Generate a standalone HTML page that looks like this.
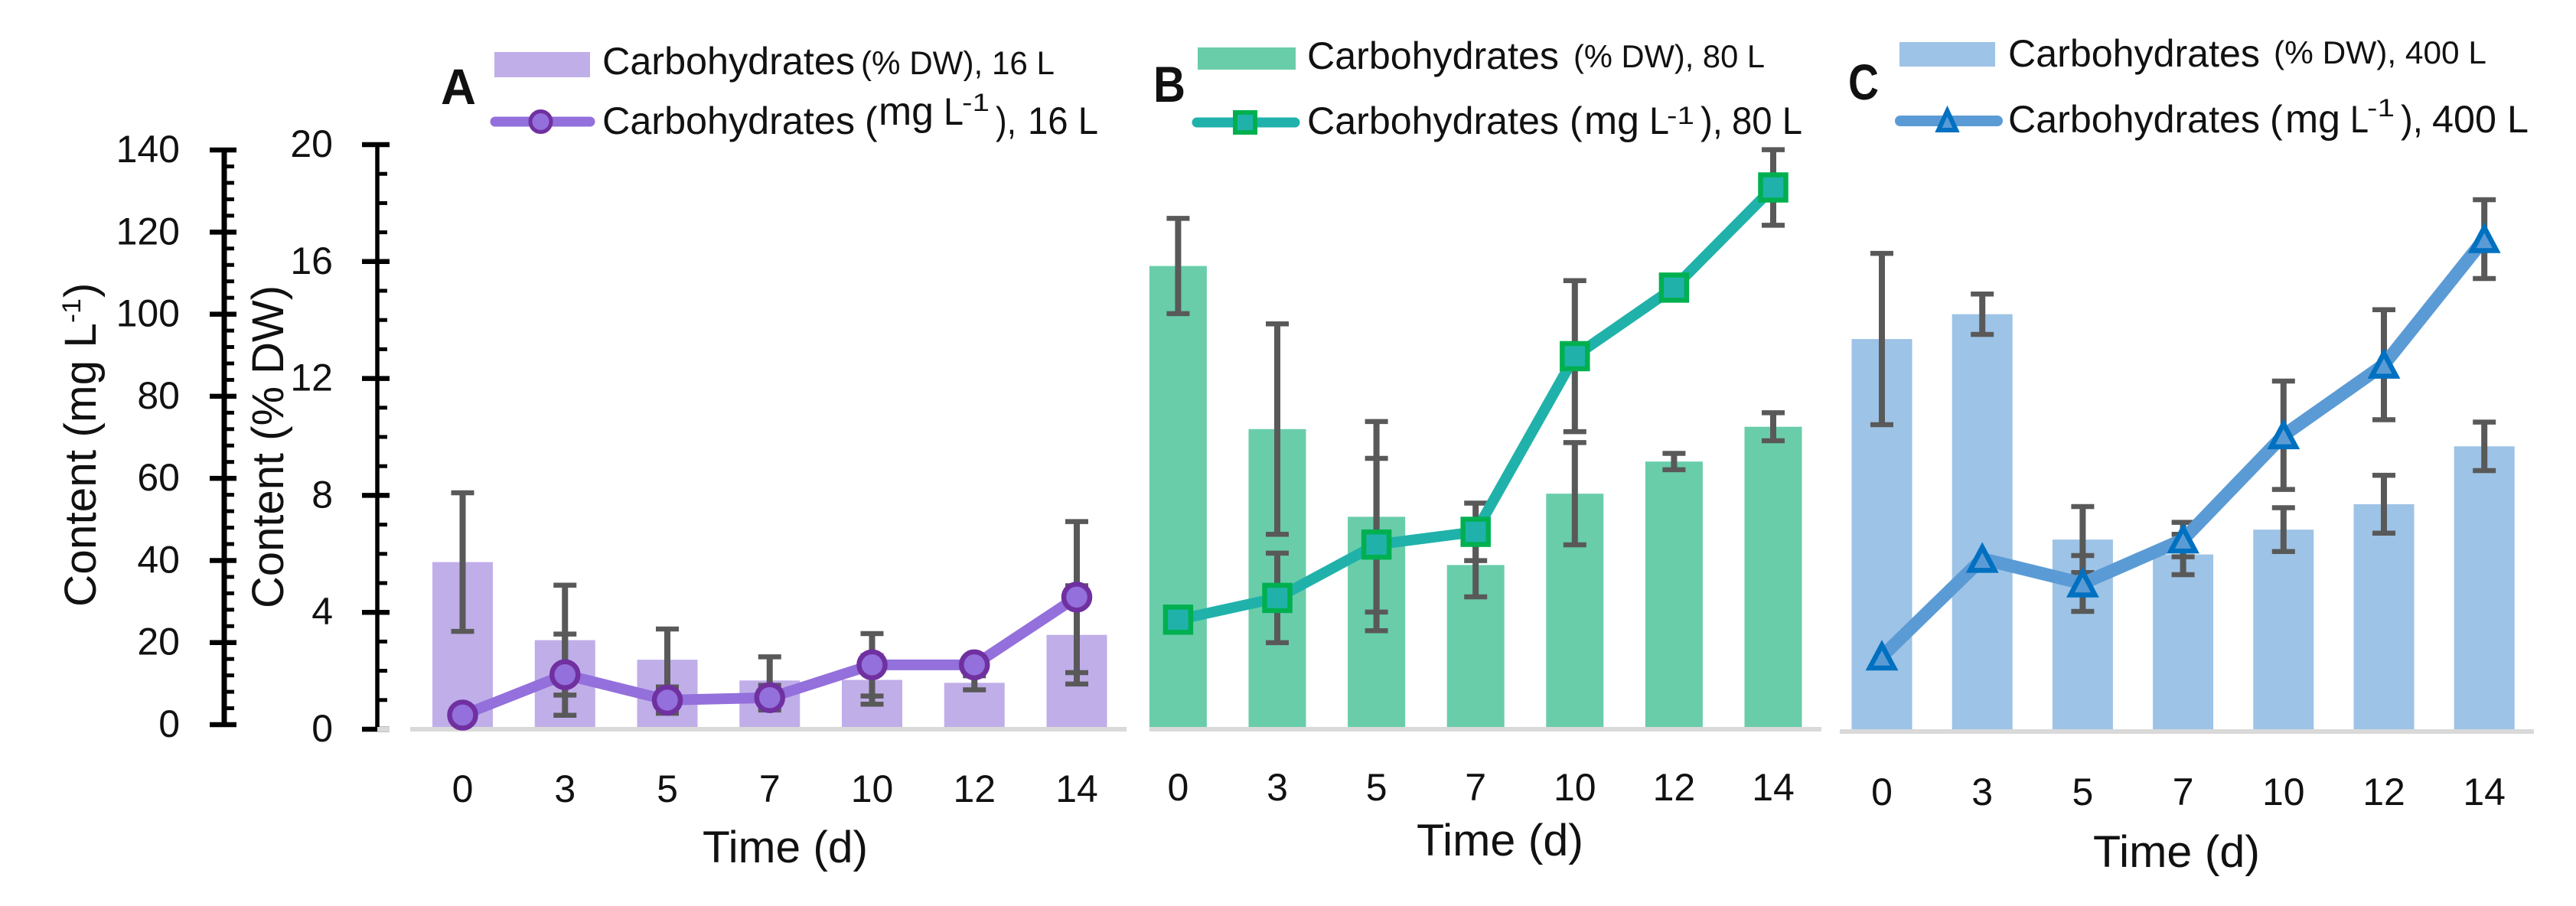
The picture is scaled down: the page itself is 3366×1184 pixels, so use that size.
<!DOCTYPE html>
<html lang="en">
<head>
<meta charset="utf-8">
<title>Carbohydrate content over time</title>
<style>
html,body{margin:0;padding:0;background:#fff;width:3366px;height:1184px;overflow:hidden}
svg{display:block}
text{font-family:"Liberation Sans",sans-serif;fill:#111}
</style>
</head>
<body>
<svg id="figure" xmlns="http://www.w3.org/2000/svg" width="3366" height="1184" viewBox="0 0 3366 1184">
  <rect x="0" y="0" width="3366" height="1184" fill="#fff"/>

  <g id="plot-layer"></g>

  <g transform="translate(125,793) rotate(-90)">
    <text x="0" y="0" font-size="58" textLength="371" lengthAdjust="spacingAndGlyphs">Content (mg L</text>
    <text x="371" y="-20" font-size="34" textLength="32" lengthAdjust="spacingAndGlyphs">-1</text>
    <text x="404" y="0" font-size="58">)</text>
  </g>
  <text transform="translate(370,795) rotate(-90)" font-size="58" textLength="422" lengthAdjust="spacingAndGlyphs">Content (% DW)</text>

  <text x="576" y="136" font-size="66" font-weight="700" fill="#000" textLength="46" lengthAdjust="spacingAndGlyphs">A</text>
  <text x="1507" y="133" font-size="66" font-weight="700" fill="#000" textLength="42" lengthAdjust="spacingAndGlyphs">B</text>
  <text x="2415" y="130" font-size="66" font-weight="700" fill="#000" textLength="40" lengthAdjust="spacingAndGlyphs">C</text>

  <text x="918" y="1127" font-size="58" textLength="216" lengthAdjust="spacingAndGlyphs">Time (d)</text>
  <text x="1851" y="1118" font-size="58" textLength="218" lengthAdjust="spacingAndGlyphs">Time (d)</text>
  <text x="2735" y="1133" font-size="58" textLength="218" lengthAdjust="spacingAndGlyphs">Time (d)</text>

  <g>
    <rect x="646" y="68" width="125" height="33" fill="#C0AEE9"/>
    <text x="787" y="97" font-size="50" textLength="330" lengthAdjust="spacingAndGlyphs">Carbohydrates</text>
    <text x="1125" y="97" font-size="43" textLength="253" lengthAdjust="spacingAndGlyphs">(% DW), 16 L</text>
    <line x1="647" y1="159" x2="771" y2="159" stroke="#9370DB" stroke-width="13" stroke-linecap="round"/>
    <circle cx="706.5" cy="159" r="13.5" fill="#9370DB" stroke="#7030A0" stroke-width="5"/>
    <text x="787" y="175" font-size="50" textLength="330" lengthAdjust="spacingAndGlyphs">Carbohydrates</text>
    <text x="1130" y="175" font-size="50">(</text>
    <text x="1148" y="163" font-size="52" textLength="72" lengthAdjust="spacingAndGlyphs">mg</text>
    <text x="1233" y="163" font-size="50" textLength="26" lengthAdjust="spacingAndGlyphs">L</text>
    <text x="1257" y="145" font-size="32" textLength="36" lengthAdjust="spacingAndGlyphs">-1</text>
    <text x="1301" y="175" font-size="50" textLength="27" lengthAdjust="spacingAndGlyphs">),</text>
    <text x="1343" y="175" font-size="50" textLength="92" lengthAdjust="spacingAndGlyphs">16 L</text>
  </g>

  <g>
    <rect x="1565" y="62" width="128" height="29" fill="#69CDAA"/>
    <text x="1708" y="90" font-size="50" textLength="329" lengthAdjust="spacingAndGlyphs">Carbohydrates</text>
    <text x="2056" y="88" font-size="42" textLength="250" lengthAdjust="spacingAndGlyphs">(% DW), 80 L</text>
    <line x1="1564" y1="160" x2="1692" y2="160" stroke="#20B2AA" stroke-width="13" stroke-linecap="round"/>
    <rect x="1614" y="147" width="26" height="26" fill="#20B2AA" stroke="#00B050" stroke-width="6"/>
    <text x="1708" y="175" font-size="50" textLength="329" lengthAdjust="spacingAndGlyphs">Carbohydrates</text>
    <text x="2051" y="175" font-size="50">(</text>
    <text x="2070" y="175" font-size="52" textLength="72" lengthAdjust="spacingAndGlyphs">mg</text>
    <text x="2155" y="175" font-size="50" textLength="26" lengthAdjust="spacingAndGlyphs">L</text>
    <text x="2178" y="162" font-size="32" textLength="36" lengthAdjust="spacingAndGlyphs">-1</text>
    <text x="2222" y="175" font-size="50" textLength="29" lengthAdjust="spacingAndGlyphs">),</text>
    <text x="2263" y="175" font-size="50" textLength="92" lengthAdjust="spacingAndGlyphs">80 L</text>
  </g>

  <g>
    <rect x="2482" y="55" width="125" height="32" fill="#9DC3E6"/>
    <text x="2624" y="87" font-size="50" textLength="329" lengthAdjust="spacingAndGlyphs">Carbohydrates</text>
    <text x="2971" y="83" font-size="42" textLength="278" lengthAdjust="spacingAndGlyphs">(% DW), 400 L</text>
    <line x1="2483" y1="158" x2="2610" y2="158" stroke="#5B9BD5" stroke-width="14" stroke-linecap="round"/>
    <polygon points="2544.5,145 2556,170 2533,170" fill="#5B9BD5" stroke="#0070C0" stroke-width="6"/>
    <text x="2624" y="173" font-size="50" textLength="329" lengthAdjust="spacingAndGlyphs">Carbohydrates</text>
    <text x="2966" y="173" font-size="50">(</text>
    <text x="2986" y="173" font-size="52" textLength="72" lengthAdjust="spacingAndGlyphs">mg</text>
    <text x="3071" y="173" font-size="50" textLength="24" lengthAdjust="spacingAndGlyphs">L</text>
    <text x="3093" y="152" font-size="32" textLength="36" lengthAdjust="spacingAndGlyphs">-1</text>
    <text x="3137" y="173" font-size="50" textLength="29" lengthAdjust="spacingAndGlyphs">),</text>
    <text x="3178" y="173" font-size="50" textLength="126" lengthAdjust="spacingAndGlyphs">400 L</text>
  </g>
</svg>

<script>
// Chart data
const categories = ["0", "3", "5", "7", "10", "12", "14"];
const mgTickLabels = [0, 20, 40, 60, 80, 100, 120, 140];
const percentTickLabels = [0, 4, 8, 12, 16, 20];

const barsA = [5.71, 3.04, 2.37, 1.66, 1.68, 1.58, 3.22];
const barErrorsA = [2.37, 1.88, 1.05, 0.81, 0.83, 0.24, 1.68];
const lineA = [2.25, 12.1, 5.9, 6.5, 14.5, 14.5, 31.0];
const lineErrorsA = [0, 9.9, 3.2, 3.0, 7.6, 2.0, 18.4];

const barsB = [15.84, 10.26, 7.26, 5.61, 8.05, 9.15, 10.34];
const barErrorsB = [1.63, 3.6, 3.26, 1.09, 1.75, 0.28, 0.48];
const lineB = [25.5, 30.8, 43.8, 46.9, 89.7, 106.4, 130.8];
const lineErrorsB = [0, 10.9, 21.0, 7.0, 18.4, 0, 9.2];

const barsC = [13.38, 14.23, 6.52, 6.01, 6.86, 7.73, 9.71];
const barErrorsC = [2.93, 0.69, 1.13, 0.69, 0.75, 0.99, 0.83];
const lineC = [16.8, 40.6, 34.6, 45.3, 70.7, 87.9, 118.5];
const lineErrorsC = [0, 0, 6.8, 4.2, 13.2, 13.4, 9.6];

const NS = "http://www.w3.org/2000/svg";
const layer = document.getElementById("plot-layer");

function mk(tag, attrs, parent) {
  const el = document.createElementNS(NS, tag);
  for (const k in attrs) el.setAttribute(k, attrs[k]);
  (parent || layer).appendChild(el);
  return el;
}

// Shared value axes
const mgAxisY = function (v) { return 947 - 5.364 * v; };
const percentAxisY = function (v) { return 953 - 38.2 * v; };

function drawValueAxis(name, labels, scale, axisX, tickLeft, tickRight, minorRight, labelRight, subdivisions, thick) {
  const g = mk("g", {});
  
  
  const top = scale(labels[labels.length - 1]);
  const bottom = scale(labels[0]);
  const spine = mk("line", { x1: axisX, x2: axisX, y1: top - 3, y2: bottom + 3, stroke: "#000", "stroke-width": thick }, g);
  
  
  labels.forEach(function (val, i) {
    const y = scale(val);
    const tick = mk("line", { x1: tickLeft, x2: tickRight, y1: y, y2: y, stroke: "#000", "stroke-width": 6.5 }, g);
    
    
    const label = mk("text", { x: labelRight, y: y + 16, "text-anchor": "end", "font-size": 50 }, g);
    
    
    label.textContent = String(val);
    if (i < labels.length - 1) {
      const next = labels[i + 1];
      for (let s = 1; s < subdivisions; s++) {
        const my = scale(val + (next - val) * s / subdivisions);
        const minor = mk("line", { x1: axisX, x2: minorRight, y1: my, y2: my, stroke: "#000", "stroke-width": 5 }, g);
        
        
      }
    }
  });
}

drawValueAxis("y-axis-mg", mgTickLabels, mgAxisY, 293, 274, 309, 306, 235, 5, 7);
drawValueAxis("y-axis-percent", percentTickLabels, percentAxisY, 493, 473, 509, 506, 435, 4, 5.5);

function drawMarker(g, kind, cx, cy, fill, stroke) {
  let m;
  if (kind === "circle") {
    m = mk("circle", { cx: cx, cy: cy, r: 17, fill: fill, stroke: stroke, "stroke-width": 6.5 }, g);
  } else if (kind === "square") {
    m = mk("rect", { x: cx - 16.5, y: cy - 16.5, width: 33, height: 33, fill: fill, stroke: stroke, "stroke-width": 6.5 }, g);
  } else {
    const pts = [[cx, cy - 15], [cx + 16, cy + 15], [cx - 16, cy + 15]].map(function (p) { return p.join(","); }).join(" ");
    m = mk("polygon", { points: pts, fill: fill, stroke: stroke, "stroke-width": 6.5 }, g);
  }
  return m;
}

function drawErrorBar(g, name, x, yHigh, yLow) {
  const stem = mk("line", { x1: x, x2: x, y1: yHigh, y2: yLow, stroke: "#595959", "stroke-width": 8 }, g);
  
  
  const capHigh = mk("line", { x1: x - 15, x2: x + 15, y1: yHigh, y2: yHigh, stroke: "#595959", "stroke-width": 6.5 }, g);
  
  
  const capLow = mk("line", { x1: x - 15, x2: x + 15, y1: yLow, y2: yLow, stroke: "#595959", "stroke-width": 6.5 }, g);
  
  
}

function drawPanel(id, opt, bars, barErrors, line, lineErrors) {
  const g = mk("g", {});
  
  
  const xAt = function (i) { return opt.x0 + opt.step * i; };
  const yBar = function (v) { return opt.barZero - 38.2 * v; };
  const yLine = function (v) { return opt.lineZero - 5.364 * v; };

  bars.forEach(function (v, i) {
    const top = yBar(v);
    const r = mk("rect", { x: xAt(i) - opt.barWidth / 2, y: top, width: opt.barWidth, height: opt.axisY - top, fill: opt.barColor }, g);
    
    
  });

  opt.axisSegments.forEach(function (seg) {
    const a = mk("rect", { x: seg[0], y: opt.axisY - 3, width: seg[1] - seg[0], height: 6, fill: "#D9D9D9" }, g);
    
    
  });

  categories.forEach(function (c, i) {
    const t = mk("text", { x: xAt(i), y: opt.labelY, "text-anchor": "middle", "font-size": 50 }, g);
    
    
    t.textContent = c;
  });

  bars.forEach(function (v, i) {
    if (barErrors[i] > 0) drawErrorBar(g, 'bar-error-' + id, xAt(i), yBar(v + barErrors[i]), yBar(v - barErrors[i]));
  });
  line.forEach(function (v, i) {
    if (lineErrors[i] > 0) drawErrorBar(g, 'line-error-' + id, xAt(i), yLine(v + lineErrors[i]), yLine(v - lineErrors[i]));
  });

  const pts = line.map(function (v, i) { return xAt(i) + "," + yLine(v); }).join(" ");
  const path = mk("polyline", { points: pts, fill: "none", stroke: opt.lineColor, "stroke-width": opt.lineWidth, "stroke-linejoin": "round", "stroke-linecap": "round" }, g);
  
  

  line.forEach(function (v, i) {
    const m = drawMarker(g, opt.marker, xAt(i), yLine(v), opt.lineColor, opt.markerStroke);
    
    
  });
}

drawPanel("a", {
  x0: 604.5, step: 133.75, barWidth: 79, barZero: 952.7, lineZero: 946.6, axisY: 953, lineWidth: 14,
  axisSegments: [[493, 509], [536, 1472]], labelY: 1048,
  barColor: "#C0AEE9", lineColor: "#9370DB", markerStroke: "#7030A0", marker: "circle"
}, barsA, barErrorsA, lineA, lineErrorsA);

drawPanel("b", {
  x0: 1539.4, step: 129.6, barWidth: 75, barZero: 952.7, lineZero: 946.6, axisY: 953, lineWidth: 14,
  axisSegments: [[1502, 2380]], labelY: 1046,
  barColor: "#69CDAA", lineColor: "#20B2AA", markerStroke: "#00B050", marker: "square"
}, barsB, barErrorsB, lineB, lineErrorsB);

drawPanel("c", {
  x0: 2459, step: 131.2, barWidth: 79, barZero: 954.2, lineZero: 948.1, axisY: 956, lineWidth: 17,
  axisSegments: [[2404, 3311]], labelY: 1052,
  barColor: "#9DC3E6", lineColor: "#5B9BD5", markerStroke: "#0070C0", marker: "triangle"
}, barsC, barErrorsC, lineC, lineErrorsC);
</script>
</body>
</html>
